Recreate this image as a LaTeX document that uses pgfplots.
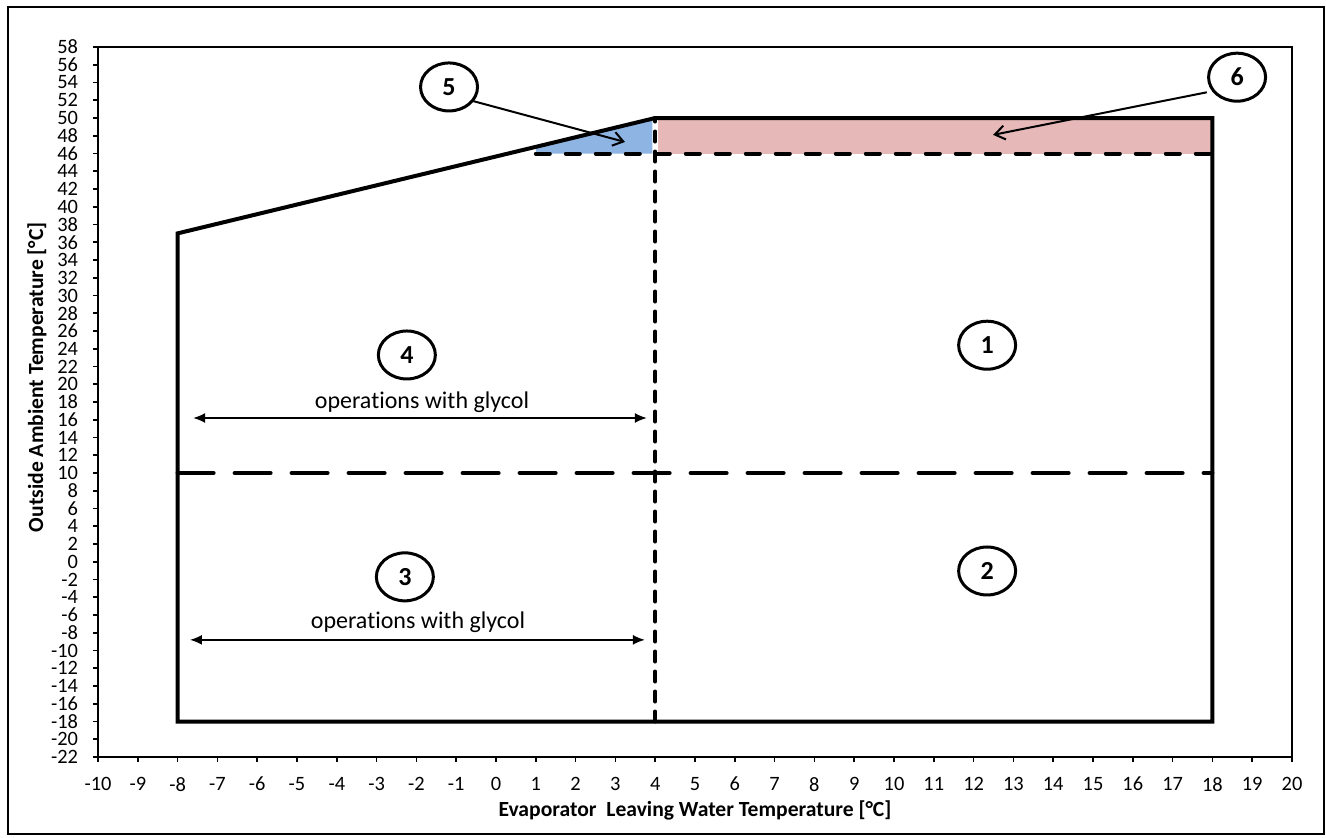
\documentclass[border=0pt]{standalone}
\usepackage{pgfplots}
\pgfplotsset{compat=1.18}
\usepackage{fontspec}
\setmainfont{Carlito}[Ligatures={NoCommon}]
\usetikzlibrary{arrows.meta,shapes.geometric}
\definecolor{zoneblue}{HTML}{8DB4E2}
\definecolor{zonepink}{HTML}{E6B9B8}
\tikzset{num/.style={draw=black, line width=1.5pt, shape=ellipse, minimum width=28.5pt, minimum height=24pt, inner sep=0pt, font=\bfseries\fontsize{13}{14}\selectfont}}
\begin{document}
\begin{tikzpicture}
\useasboundingbox (-49pt,-40pt) rectangle (614pt,378.5pt);
\draw[line width=1pt] (-45pt,-38.5pt) rectangle (613pt,375pt);
\begin{axis}[
  at={(0,0)}, anchor=south west,
  scale only axis, width=597pt, height=355pt,
  xmin=-10, xmax=20, ymin=-22, ymax=58,
  xtick distance=1, ytick distance=2,
  xtick pos=left, ytick pos=left, tick align=outside,
  major tick length=2.5pt,
  every tick/.style={black, line width=0.8pt},
  axis line style={line width=0.6pt},
  /pgf/number format/assume math mode=true,
  ticklabel style={font=\fontsize{10.2}{10.5}\selectfont},
  xticklabel style={yshift=-4pt},
  yticklabel style={xshift=-4pt},
  xlabel={Evaporator\ \ Leaving Water Temperature [°C]},
  ylabel={Outside Ambient Temperature [°C]},
  label style={font=\bfseries\fontsize{10.8}{12}\selectfont},
  xlabel style={at={(rel axis cs:0.5,0)}, anchor=center, yshift=-26.5pt},
  ylabel style={at={(rel axis cs:0,0.535)}, anchor=center, rotate=0, yshift=30.5pt},
  clip=false,
]
% coloured zones
\addplot[fill=zoneblue, draw=none] coordinates {(1,46) (1,46.75) (4,50) (3.93,50) (3.93,46)} -- cycle;
\addplot[fill=zonepink, draw=none] coordinates {(4.07,46) (4.07,50) (18,50) (18,46)} -- cycle;
% dashed limits
\addplot[black, line width=2pt, line cap=round, dash pattern=on 7pt off 8pt] coordinates {(1,46) (18,46)};
\addplot[black, line width=2pt, line cap=round, dash pattern=on 18pt off 10.5pt] coordinates {(-8,10) (18,10)};
\addplot[black, line width=2pt, line cap=round, dash pattern=on 5pt off 5pt] coordinates {(4,-18) (4,50)};
% envelope
\addplot[black, line width=2pt, line join=miter] coordinates {(-8,-18) (-8,37) (4,50) (18,50) (18,-18)} -- cycle;
% glycol arrows
\addplot[black, line width=0.8pt, {Latex[length=6pt,width=5pt]}-{Latex[length=6pt,width=5pt]}] coordinates {(-7.61,16.2) (3.79,16.2)};
\addplot[black, line width=0.8pt, {Latex[length=6pt,width=5pt]}-{Latex[length=6pt,width=5pt]}] coordinates {(-7.69,-8.8) (3.74,-8.8)};
\node[font=\fontsize{12}{13}\selectfont] at (axis cs:-1.86,18.0) {operations with glycol};
\node[font=\fontsize{12}{13}\selectfont] at (axis cs:-1.96,-6.8) {operations with glycol};
% callout arrows
\addplot[black, line width=1pt, -{Straight Barb[length=5pt,width=7pt]}] coordinates {(-0.65,52.0) (3.24,47.3)};
\addplot[black, line width=1pt, -{Straight Barb[length=5pt,width=7pt]}] coordinates {(17.86,52.9) (12.49,48.1)};
% numbered circles
\node[num] at (axis cs:12.34,24.4) {1};
\node[num] at (axis cs:12.34,-1.04) {2};
\node[num] at (axis cs:-2.29,-1.7) {3};
\node[num] at (axis cs:-2.24,23.3) {4};
\node[num, fill=white] at (axis cs:-1.18,53.5) {5};
\node[num, fill=white] at (axis cs:18.62,54.6) {6};
\end{axis}
\end{tikzpicture}
\end{document}
